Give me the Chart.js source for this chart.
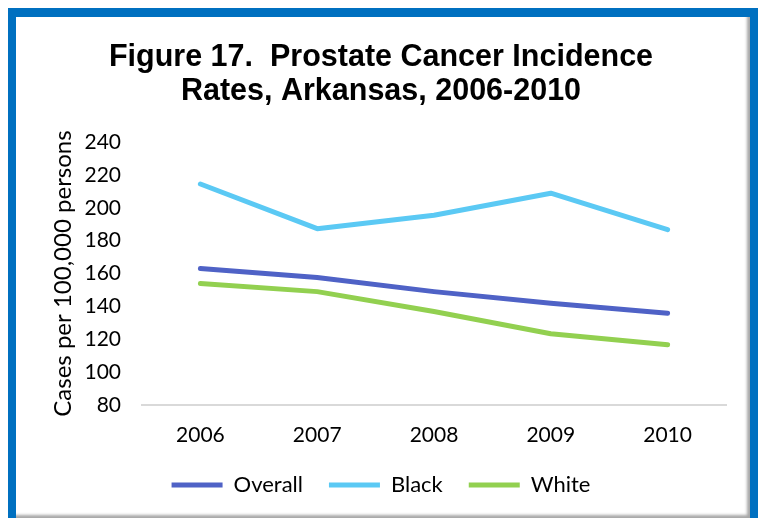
<!DOCTYPE html>
<html>
<head>
<meta charset="utf-8">
<script src="https://cdn.jsdelivr.net/npm/chart.js@4.4.0/dist/chart.umd.min.js"></script>
<style>
  html, body { margin: 0; padding: 0; background: #fff; }
  #frame {
    position: absolute; left: 8px; top: 8px;
    width: 734px; height: 502px;
    border: 8px solid #0070c0; border-top-width: 9px;
  }
  #inner {
    position: absolute; left: 0; top: 0; width: 734px; height: 502px;
    box-shadow: inset -3px -4px 3px rgba(0, 0, 0, 0.35);
  }
  canvas { position: absolute; left: 0; top: 0; }
</style>
</head>
<body>
<div id="frame">
  <div id="inner"></div>
  <canvas id="myChart" width="734" height="498"></canvas>
</div>
<script>
const years = ["2006", "2007", "2008", "2009", "2010"];
const overall = [163.1, 157.6, 149.0, 141.9, 135.8];
const black = [214.5, 187.3, 195.5, 208.9, 186.7];
const white = [154.0, 149.0, 136.9, 123.4, 116.7];
const yMin = 80;
const yMax = 240;
const yStep = 20;

Chart.defaults.font.family = "Lato";
Chart.defaults.color = "#000";

const ctx = document.getElementById("myChart");

const line = (label, values, color) => ({
  label: label,
  data: values,
  borderColor: color,
  backgroundColor: color,
  borderWidth: 5,
  borderCapStyle: "round",
  borderJoinStyle: "round",
  pointRadius: 0,
  tension: 0,
});

const data = {
  labels: years,
  datasets: [
    line("Overall", overall, "#4f62c6"),
    line("Black", black, "#5bc9f4"),
    line("White", white, "#92d050"),
  ],
};

const config = {
  type: "line",
  data: data,
  options: {
    responsive: false,
    animation: false,
    layout: {
      padding: { top: 10, left: 20, right: 24, bottom: 9 },
    },
    plugins: {
      title: {
        display: true,
        text: ["Figure 17.  Prostate Cancer Incidence", "Rates, Arkansas, 2006-2010"],
        font: { family: "Liberation Sans", size: 30.5, weight: "bold", lineHeight: 1.1 },
        color: "#000",
        padding: { top: 14, bottom: 34 },
      },
      legend: {
        position: "bottom",
        labels: {
          usePointStyle: true,
          pointStyle: "line",
          pointStyleWidth: 51,
          padding: 26,
          font: { size: 22 },
          color: "#000",
        },
      },
      tooltip: { enabled: false },
    },
    scales: {
      x: {
        offset: true,
        grid: { display: false, drawTicks: false, offset: true },
        border: { display: true, color: "#d9d9d9", width: 2 },
        ticks: { padding: 18, font: { size: 21 } },
        afterFit(scale) {
          scale.height = 43;
        },
      },
      y: {
        min: yMin,
        max: yMax,
        grid: { display: false, drawTicks: false },
        border: { display: false },
        ticks: { stepSize: yStep, padding: 21, font: { size: 21 } },
        title: {
          display: true,
          text: "Cases per 100,000 persons",
          font: { size: 24 },
          padding: { top: 13, bottom: 0 },
        },
        afterFit(scale) {
          scale.width = 106;
        },
      },
    },
  },
};

new Chart(ctx, config);
</script>
</body>
</html>
